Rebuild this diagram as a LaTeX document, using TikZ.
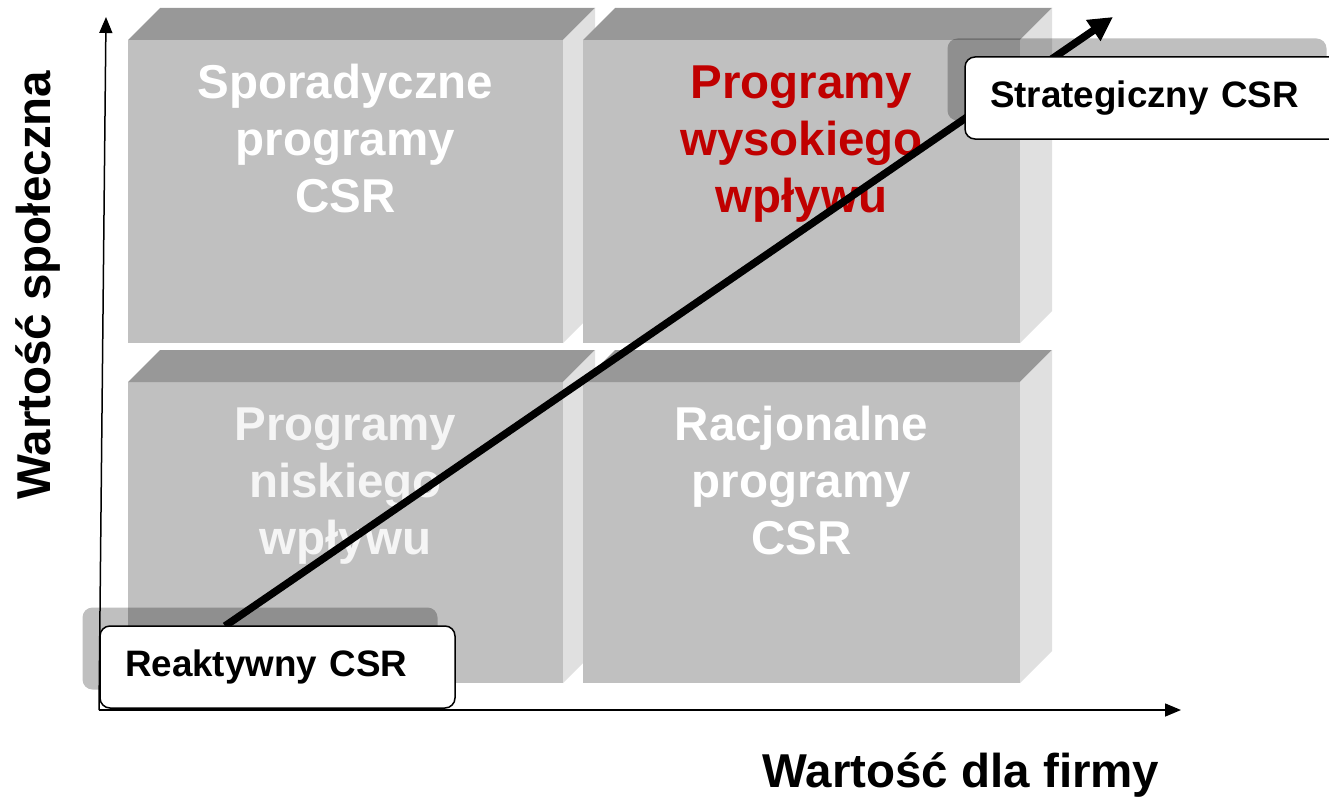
\documentclass[tikz,border=0pt]{standalone}
\usepackage{fontspec}
\setmainfont{Liberation Sans}
\usetikzlibrary{arrows.meta,calc,shadows}
\definecolor{frontc}{HTML}{C0C0C0}
\definecolor{topc}{HTML}{989898}
\definecolor{sidec}{HTML}{E0E0E0}
\definecolor{redt}{HTML}{C00000}
\pgfdeclarelayer{bg}
\pgfdeclarelayer{mid}
\pgfsetlayers{bg,mid,main}
\newcommand\csrcube[5]{%
  \node[frontface, minimum width=#4pt, minimum height=#5pt, anchor=north west] (#1) at (#2,#3) {};
  \fill[topc] (#1.north west) -- ++(32,-32) -- ([shift={(32,-32)}]#1.north east) -- (#1.north east) -- cycle;
  \fill[sidec] (#1.north east) -- ++(32,-32) -- ([shift={(32,-32)}]#1.south east) -- (#1.south east) -- cycle;
}
\begin{document}
\begin{tikzpicture}[x=1pt,y=-1pt,
  frontface/.style={rectangle, fill=frontc, draw=none, inner sep=0pt, outer sep=0pt},
  boxtext/.style={font=\bfseries\fontsize{47.5}{57}\selectfont, align=center, anchor=north, inner sep=0pt},
  callout/.style={rectangle, draw=black, line width=1.5pt, fill=white, rounded corners=10pt,
    font=\bfseries\fontsize{36.8}{44}\selectfont, align=left, inner xsep=25pt, inner ysep=0pt,
    outer sep=0pt, minimum height=82pt, anchor=north west,
    drop shadow={shadow xshift=-17.5pt, shadow yshift=18.5pt, opacity=0.25, fill=black}},
  axislabel/.style={font=\bfseries\fontsize{47.5}{57}\selectfont, inner sep=0pt},
  axis/.style={line width=1.5pt, -{Triangle[length=16pt,width=13pt]}},
  trend/.style={line width=7.5pt, -{Triangle[length=24pt,width=24pt]}}
]
\useasboundingbox (0,0) rectangle (1329,800);

\begin{pgfonlayer}{bg}
\fill[white] (0,0) rectangle (1329,800);
\csrcube{tl}{128}{40}{435}{303}
\csrcube{tr}{583}{40}{437}{303}
\csrcube{bl}{128}{382}{435}{301}
\csrcube{br}{583}{382}{437}{301}
\node[boxtext, text=white] (tlt) at ([yshift=-18pt]tl.north) {\rule{0pt}{40pt}Sporadyczne\\programy\\CSR};
\node[boxtext, text=redt] (trt) at ([yshift=-18pt]tr.north) {\rule{0pt}{40pt}Programy\\wysokiego\\wpływu};
\node[boxtext, text=white!96!black] (blt) at ([yshift=-18pt]bl.north) {\rule{0pt}{40pt}Programy\\niskiego\\wpływu};
\node[boxtext, text=white] (brt) at ([yshift=-18pt]br.north) {\rule{0pt}{40pt}Racjonalne\\programy\\CSR};

\coordinate (o) at (99,710);
\coordinate (ytip) at (106,17);
\coordinate (xtip) at (1181,710);
\draw[axis] (o) -- (ytip);
\draw[axis] (o) -- (xtip);
\end{pgfonlayer}

\node[callout, text width=305pt] (rk) at (100,626) {Reaktywny CSR};
\node[callout, text width=329pt] (st) at (965,57) {Strategiczny CSR};

\begin{pgfonlayer}{mid}
\coordinate (s) at ($(rk.north west)+(125,0)$);
\coordinate (e) at ($(st.north west)+(148,-40)$);
\draw[trend] (s) -- (e);
\end{pgfonlayer}

\node[axislabel, rotate=90, anchor=base] (yl) at (50,285) {Wartość społeczna};
\node[axislabel, anchor=base] (xl) at (961,787) {Wartość dla firmy};
\end{tikzpicture}
\end{document}
